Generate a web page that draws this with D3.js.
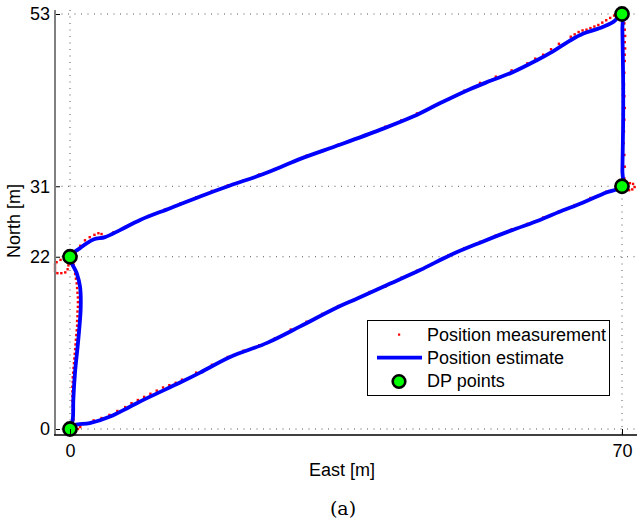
<!DOCTYPE html>
<html>
<head>
<meta charset="utf-8">
<script src="https://cdn.jsdelivr.net/npm/d3@7"></script>
<style>
  body { margin: 0; background: #fff; }
  svg text { font-family: "Liberation Sans", Arial, sans-serif; }
</style>
</head>
<body>
<svg id="chart" width="637" height="519"></svg>
<script>
// tick values and labels
const xTicks = [0, 70];
const yTicks = [0, 22, 31, 53];
const legendLabels = ["Position measurement", "Position estimate", "DP points"];

// DP points (East, North)
const dpPoints = [[0, 0], [70, 31], [70, 53], [0, 22]];

// position estimate, in driving order
const estimate = [
    [0, 0], [0.63, 0.5], [2.5, 0.75], [5.1, 1.6], [7.6, 2.85], [10.1, 4.1], [13.9, 5.9],
    [16.5, 7.2], [20.3, 9.2], [25, 11.0], [29.2, 13.1], [33.4, 15.3], [36.5, 16.7], [40, 18.3],
    [44.4, 20.3], [48.2, 22.2], [52, 23.8], [55.8, 25.3], [59.6, 26.7], [62, 27.7], [65, 28.9],
    [68, 30.2], [70, 31],
    [70.05, 33], [70.1, 36], [70.15, 40], [70.15, 44], [70.1, 48], [70.05, 51], [70, 53],
    [68.9, 52.0], [67.2, 51.2], [65.1, 50.5], [63.4, 49.6], [61.2, 48.2], [59.2, 47.1],
    [56.2, 45.6], [53.4, 44.5], [50.7, 43.4], [46.9, 41.6], [43.5, 39.9], [39.3, 38.2],
    [34.2, 36.3], [29.2, 34.5], [26.6, 33.4], [24.1, 32.4], [20.3, 31.1], [16.5, 29.7],
    [12.7, 28.2], [8.9, 26.7], [6.34, 25.4], [4.44, 24.5], [2.96, 24.2], [1.27, 23.1], [0, 22],
    [0.85, 19.9], [1.27, 18.2], [1.36, 15.6], [1.05, 11.4], [0.63, 7.15], [0.42, 3.7],
    [0.34, 1.15], [0, 0]
];

const measurement = [
    // start and lower leg
    [0.7, -0.3], [1.0, 0.0], [1.3, 0.25], [2.0, 0.7], [3.0, 1.1], [4.0, 1.4], [5.0, 1.8],
    [6.0, 2.3], [7.0, 2.8], [7.8, 3.3], [8.6, 3.7], [9.4, 4.1], [10.2, 4.5], [11.0, 4.9],
    [11.8, 5.3], [12.6, 5.6], [13.4, 5.9], [14.2, 6.3], [16, 7.2], [18, 8.2], [20, 9.2],
    [22, 10.0], [24, 10.7], [26, 11.6], [28, 12.7], [30, 13.7], [32, 14.7], [34, 15.7],
    [36, 16.5], [38, 17.5], [40, 18.2], [42, 19.3], [44, 20.2], [46, 21.1], [48, 22.2],
    [50, 23.1], [52, 23.9], [54, 24.7], [56, 25.5], [58, 26.2], [60, 27.0], [62, 27.8],
    [64, 28.6], [66, 29.5], [68, 30.3], [69.5, 30.8],
    // loop at the corner (70, 31)
    [70.5, 30.6], [70.9, 30.5], [71.3, 30.6], [71.6, 30.9], [71.4, 31.3], [71.0, 31.4], [70.6, 31.3],
    // right leg
    [70.3, 32], [70.35, 33.5], [70.3, 35], [70.2, 36.5], [70.25, 38], [70.3, 39.5], [70.35, 41],
    [70.3, 42.5], [70.25, 44], [70.3, 45.5], [70.35, 47], [70.35, 47.8], [70.4, 48.6],
    [70.35, 49.4], [70.4, 50.2], [70.35, 51], [70.3, 51.8], [70.2, 52.5],
    // upper leg, top part rides above the estimate
    [69.4, 53.0], [69, 52.8], [68.5, 52.5], [68, 52.2], [67.5, 51.9], [67, 51.6], [66.5, 51.4],
    [66, 51.2], [65.5, 51.0], [65, 50.9], [64.5, 50.7], [64, 50.4], [63.5, 50.1], [62, 49.2],
    [61, 48.5], [60, 47.8], [59, 47.3], [58, 46.7], [56, 45.8], [54, 45.0], [52, 44.2],
    [50, 43.2], [48, 42.1], [46, 41.2], [44, 40.3], [42, 39.4], [40, 38.6], [38, 37.7],
    [36, 37.0], [34, 36.3], [32, 35.6], [30, 34.9], [28, 34.0], [26, 33.2], [24, 32.5],
    [22, 31.7], [20, 31.1], [18, 30.4], [16, 29.6], [14, 28.8], [12, 28.0], [10, 27.2],
    [8.5, 26.5], [7, 25.8], [5.5, 25.1], [4.0, 24.9], [3.6, 25.0], [3.1, 24.8], [2.5, 24.5],
    [1.9, 24.1], [1.3, 23.4], [0.9, 22.8],
    // loop at the corner (0, 22)
    [-0.2, 21.9], [-0.7, 21.7], [-1.2, 21.6], [-1.7, 21.3], [-1.9, 21.0], [-1.9, 20.6],
    [-1.9, 20.2], [-1.6, 19.9], [-1.1, 19.9], [-0.6, 20.0], [-0.3, 20.4], [-0.2, 20.9],
    // left leg, hugging the left side of the estimate
    [0.3, 21.6], [0.45, 21.0], [0.55, 20.4], [0.65, 19.8], [0.75, 19.2], [0.85, 18.6], [0.9, 18.0],
    [0.95, 17.4], [1.0, 16.8], [1.0, 16.2], [1.0, 15.6], [0.95, 15.0], [0.95, 14.4], [0.9, 13.8],
    [0.9, 13.2], [0.85, 12.6], [0.8, 12.0], [0.75, 11.4], [0.7, 10.8], [0.65, 10.2], [0.6, 9.6],
    [0.55, 9.0], [0.5, 8.4], [0.45, 7.8], [0.4, 7.2], [0.35, 6.6], [0.35, 6.0], [0.3, 5.4],
    [0.3, 4.8], [0.3, 4.2], [0.3, 3.6], [0.35, 3.0], [0.35, 2.4], [0.4, 1.8], [0.45, 1.2],
    [0.6, 0.6]
];

const svg = d3.select("#chart");

let x = d3.scaleLinear().domain([0, 70]).range([70, 622]),
    y = d3.scaleLinear().domain([0, 53]).range([429, 14]);

let boxLeft = 55, boxRight = 637, boxTop = 10, boxBottom = 435; // axes box edges

// dotted grid at the ticks
svg.append("g").selectAll("line")
    .data(yTicks)
    .enter().append("line")
    .attr("x1", boxLeft).attr("x2", boxRight)
    .attr("y1", d => y(d)).attr("y2", d => y(d))
    .attr("stroke", "#555").attr("stroke-width", 1)
    .attr("stroke-dasharray", "1,5.5");

svg.append("g").selectAll("line")
    .data(xTicks)
    .enter().append("line")
    .attr("x1", d => x(d)).attr("x2", d => x(d))
    .attr("y1", boxTop).attr("y2", boxBottom)
    .attr("stroke", "#555").attr("stroke-width", 1)
    .attr("stroke-dasharray", "1,5.5");

// measurements
svg.append("g").selectAll("rect")
    .data(measurement)
    .enter().append("rect")
    .attr("x", d => x(d[0]) - 1.2)
    .attr("y", d => y(d[1]) - 1.2)
    .attr("width", 2.4).attr("height", 2.4)
    .attr("fill", "#ff0000");

// estimate
let line = d3.line()
    .x(d => x(d[0]))
    .y(d => y(d[1]))
    .curve(d3.curveCatmullRom.alpha(0.5));

svg.append("path")
    .datum(estimate)
    .attr("d", line)
    .attr("fill", "none")
    .attr("stroke", "#0000ff")
    .attr("stroke-width", 3.8)
    .attr("stroke-linejoin", "round");

// DP points
svg.append("g").selectAll("circle")
    .data(dpPoints)
    .enter().append("circle")
    .attr("cx", d => x(d[0]))
    .attr("cy", d => y(d[1]))
    .attr("r", 6.6)
    .attr("fill", "#00ff00")
    .attr("stroke", "#000")
    .attr("stroke-width", 2.6);

// axes
let yAxis = d3.axisLeft(y).tickValues(yTicks).tickSizeInner(-5).tickSizeOuter(0).tickPadding(5);
let gy = svg.append("g").attr("transform", "translate(" + boxLeft + ",0)").call(yAxis);
gy.select(".domain").remove();
gy.selectAll(".tick line").attr("stroke", "#000");
gy.selectAll("text").attr("font-size", 18).attr("fill", "#000");

let xAxis = d3.axisBottom(x).tickValues(xTicks).tickSizeInner(-6).tickSizeOuter(0).tickPadding(9);
let gx = svg.append("g").attr("transform", "translate(0," + boxBottom + ")").call(xAxis);
gx.select(".domain").remove();
gx.selectAll(".tick line").attr("stroke", "#000");
gx.selectAll("text").attr("font-size", 18).attr("fill", "#000");

svg.append("line")
    .attr("x1", boxLeft).attr("x2", boxLeft).attr("y1", boxTop).attr("y2", boxBottom)
    .attr("stroke", "#808080").attr("stroke-width", 2);
svg.append("line")
    .attr("x1", boxLeft - 1).attr("x2", boxRight).attr("y1", boxBottom).attr("y2", boxBottom)
    .attr("stroke", "#000").attr("stroke-width", 1.5);

// axis titles
svg.append("text")
    .attr("x", 342).attr("y", 476)
    .attr("text-anchor", "middle").attr("font-size", 18)
    .text("East [m]");

svg.append("text")
    .attr("transform", "translate(20,221) rotate(-90)")
    .attr("text-anchor", "middle").attr("font-size", 18)
    .text("North [m]");

svg.append("text")
    .attr("x", 343).attr("y", 515)
    .attr("text-anchor", "middle").attr("font-size", 19)
    .style("font-family", "'DejaVu Serif', 'Liberation Serif', serif")
    .text("(a)");

// legend
let legend = svg.append("g");
legend.append("rect")
    .attr("x", 367.5).attr("y", 320.5).attr("width", 242).attr("height", 75)
    .attr("fill", "#fff").attr("stroke", "#000").attr("stroke-width", 1);

legend.append("rect")
    .attr("x", 398).attr("y", 333.5).attr("width", 2.2).attr("height", 2.2)
    .attr("fill", "#ff0000");
legend.append("line")
    .attr("x1", 377).attr("x2", 422).attr("y1", 357.7).attr("y2", 357.7)
    .attr("stroke", "#0000ff").attr("stroke-width", 3.8);
legend.append("circle")
    .attr("cx", 399).attr("cy", 381.5).attr("r", 6.3)
    .attr("fill", "#00ff00").attr("stroke", "#000").attr("stroke-width", 2.6);

legend.selectAll("text.lab")
    .data(legendLabels)
    .enter().append("text")
    .attr("class", "lab")
    .attr("x", 427)
    .attr("y", (d, i) => 341 + i * 23.2)
    .attr("font-size", 18)
    .text(d => d);
</script>
</body>
</html>
